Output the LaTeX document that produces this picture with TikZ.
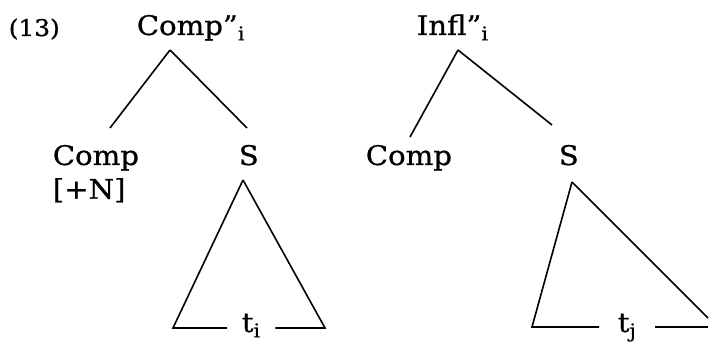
\documentclass[tikz,border=0pt]{standalone}
\usepackage{fontspec}
\setmainfont{DejaVu Serif}[FakeStretch=1.08, FakeBold=0.8]
\usepackage{tikz}
\usetikzlibrary{positioning}

\begin{document}
\begin{tikzpicture}[x=1pt, y=-1pt, line width=1.6pt,
    cat/.style={inner sep=0pt, anchor=base west, font=\fontsize{27}{32}\selectfont},
    exno/.style={inner sep=0pt, anchor=base west, font=\fontsize{23}{28}\selectfont}]
  \useasboundingbox (0,0) rectangle (709,344);
  % example number
  \node[exno] (num) at (8,36) {(13)};
  % left tree
  \node[cat] (cpp) at (136,35) {Comp''\textsubscript{i}};
  \node[cat] (cmpa) at (52,165) {Comp};
  \node[cat, below=6pt of cmpa.south west, anchor=north west] (feat) {[+N]};
  \node[cat] (sa) at (238,165) {S};
  \node[cat] (ta) at (241,332) {t\textsubscript{i}};
  \coordinate (cpp-b) at (170,50);
  \coordinate (cmpa-t) at (110,128);
  \coordinate (sa-t) at (247,128);
  \coordinate (sa-b) at (243,180);
  \coordinate (ta-l) at (173,328);
  \coordinate (ta-r) at (325,328);
  \draw (cpp-b) -- (cmpa-t);
  \draw (cpp-b) -- (sa-t);
  \draw (sa-b) -- (ta-l) -- ([xshift=-14pt]ta.west |- ta-l);
  \draw (sa-b) -- (ta-r) -- ([xshift=14pt]ta.east |- ta-r);
  % right tree
  \node[cat] (ipp) at (416,35) {Infl''\textsubscript{i}};
  \node[cat] (cmpb) at (365,165) {Comp};
  \node[cat] (sb) at (558,165) {S};
  \node[cat] (tb) at (617,332) {t\textsubscript{j}};
  \coordinate (ipp-b) at (458,50);
  \coordinate (cmpb-t) at (410,137);
  \coordinate (sb-t) at (552,125);
  \coordinate (sb-b) at (572,182);
  \coordinate (tb-l) at (532,327);
  \coordinate (tb-r) at (708,318);
  \coordinate (tb-e) at (708,327);
  \draw (ipp-b) -- (cmpb-t);
  \draw (ipp-b) -- (sb-t);
  \draw (sb-b) -- (tb-l) -- ([xshift=-18pt]tb.west |- tb-l);
  \draw (sb-b) -- (tb-r);
  \draw ([xshift=18pt]tb.east |- tb-e) -- (tb-e);
\end{tikzpicture}
\end{document}
